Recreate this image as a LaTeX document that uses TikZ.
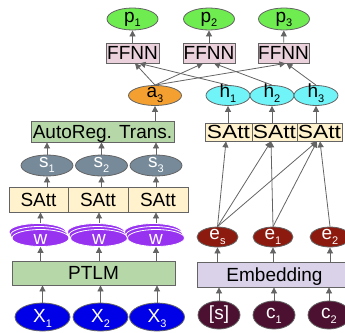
\documentclass[tikz,border=0pt]{standalone}
\usepackage{fontspec}
\setmainfont{Liberation Sans}
\usepackage{graphicx}
\usetikzlibrary{shapes.geometric,arrows.meta}

\definecolor{edgegray}{RGB}{100,100,100}
\definecolor{pgreen}{RGB}{110,236,80}
\definecolor{ffpink}{RGB}{234,209,220}
\definecolor{aorange}{RGB}{244,160,48}
\definecolor{hcyan}{RGB}{112,244,248}
\definecolor{sattcream}{RGB}{255,242,204}
\definecolor{tgreen}{RGB}{182,215,168}
\definecolor{sgray}{RGB}{118,138,154}
\definecolor{wpurple}{RGB}{150,50,240}
\definecolor{emblav}{RGB}{217,210,233}
\definecolor{ered}{RGB}{140,26,14}
\definecolor{xblue}{RGB}{0,0,232}
\definecolor{cmaroon}{RGB}{76,17,48}

\newcommand{\lo}[1]{\raisebox{-5pt}{\fontsize{11}{11}\selectfont #1}}
\newcommand{\wide}[1]{\scalebox{1.2}[1]{#1}}

\tikzset{
  every node/.style={font=\fontsize{19}{22}\selectfont, inner sep=0pt, line width=0.8pt},
  box/.style={rectangle, draw=edgegray, text height=13.5pt, text depth=0pt},
  tok/.style={ellipse, draw=edgegray, text height=4pt, text depth=0pt},
  wtok/.style={ellipse, draw=white, fill=wpurple, text=white,
               minimum width=57pt, minimum height=14pt, text height=12pt, text depth=0pt},
  arr/.style={draw=edgegray, line width=0.8pt, -{Triangle[length=6pt,width=6pt]}}
}

\begin{document}
\begin{tikzpicture}[x=1pt,y=-1pt]
    \useasboundingbox (0,0) rectangle (345,332);
    \clip (0,0) rectangle (345,332);

    % outputs
    \node[tok, fill=pgreen, minimum width=51pt, minimum height=22pt, text height=6pt] (p1) at (132.5,19) {p\lo{1}};
    \node[tok, fill=pgreen, minimum width=51pt, minimum height=22pt, text height=6pt] (p2) at (209,19) {p\lo{2}};
    \node[tok, fill=pgreen, minimum width=51pt, minimum height=22pt, text height=6pt] (p3) at (284,19) {p\lo{3}};
    \node[box, fill=ffpink, minimum width=53pt, minimum height=20pt] (ff1) at (132.5,53) {FFNN};
    \node[box, fill=ffpink, minimum width=52pt, minimum height=20pt] (ff2) at (209,53) {FFNN};
    \node[box, fill=ffpink, minimum width=51pt, minimum height=20pt] (ff3) at (283.5,53) {FFNN};

    % left branch
    \node[tok, fill=aorange, minimum width=53pt, minimum height=20pt] (a3) at (155,95.5) {a\lo{3}};
    \node[box, fill=tgreen, minimum width=143pt, minimum height=21pt] (art) at (102.5,131.5) {AutoReg. Trans.};
    \node[tok, fill=sgray, text=white, minimum width=52pt, minimum height=21pt] (s1) at (47,165.5) {s\lo{1}};
    \node[tok, fill=sgray, text=white, minimum width=52pt, minimum height=21pt] (s2) at (101.5,165.5) {s\lo{2}};
    \node[tok, fill=sgray, text=white, minimum width=52pt, minimum height=21pt] (s3) at (156,165.5) {s\lo{3}};
    \node[box, fill=sattcream, minimum width=59pt, minimum height=25pt] (sl1) at (38.5,199.5) {SAtt};
    \node[box, fill=sattcream, minimum width=60pt, minimum height=25pt] (sl2) at (98,199.5) {SAtt};
    \node[box, fill=sattcream, minimum width=60pt, minimum height=25pt] (sl3) at (158,199.5) {SAtt};

    \node[wtok] (w1b) at (37.5,232) {};
    \node[wtok] (w1m) at (39,235) {};
    \node[wtok] (w1) at (40.5,238) {w};
    \node[wtok] (w2b) at (96,232) {};
    \node[wtok] (w2m) at (97.5,235) {};
    \node[wtok] (w2) at (99,238) {w};
    \node[wtok] (w3b) at (153,232) {};
    \node[wtok] (w3m) at (154.5,235) {};
    \node[wtok] (w3) at (156,238) {w};

    \node[box, fill=tgreen, minimum width=163pt, minimum height=24pt] (ptlm) at (93.5,273) {PTLM};
    \node[tok, fill=xblue, text=white, minimum width=55pt, minimum height=28pt, text height=10pt] (x1) at (42.5,317) {X\lo{1}};
    \node[tok, fill=xblue, text=white, minimum width=55pt, minimum height=28pt, text height=10pt] (x2) at (100.5,317) {X\lo{2}};
    \node[tok, fill=xblue, text=white, minimum width=55pt, minimum height=28pt, text height=10pt] (x3) at (157,317) {X\lo{3}};

    % right branch
    \node[tok, fill=hcyan, minimum width=44pt, minimum height=20pt] (h1) at (228,95.5) {h\lo{1}};
    \node[tok, fill=hcyan, minimum width=44pt, minimum height=20pt] (h2) at (272,95.5) {h\lo{2}};
    \node[tok, fill=hcyan, minimum width=44pt, minimum height=20pt] (h3) at (316,95.5) {h\lo{3}};
    \node[box, fill=sattcream, minimum width=47pt, minimum height=18pt] (sr1) at (228.5,132) {\wide{SAtt}};
    \node[box, fill=sattcream, minimum width=45pt, minimum height=18pt] (sr2) at (274.5,132) {\wide{SAtt}};
    \node[box, fill=sattcream, minimum width=45pt, minimum height=18pt] (sr3) at (319.5,132) {\wide{SAtt}};
    \node[tok, fill=ered, text=white, minimum width=41pt, minimum height=20pt] (es) at (217.5,237) {e\lo{s}};
    \node[tok, fill=ered, text=white, minimum width=40pt, minimum height=20pt] (e1) at (273,237) {e\lo{1}};
    \node[tok, fill=ered, text=white, minimum width=40pt, minimum height=20pt] (e2) at (330,237) {e\lo{2}};
    \node[box, fill=emblav, minimum width=155pt, minimum height=25pt] (emb) at (274.5,274.5) {Embedding};
    \node[tok, fill=cmaroon, text=white, minimum width=42pt, minimum height=28pt, text height=9pt] (sb) at (219,315) {[s]};
    \node[tok, fill=cmaroon, text=white, minimum width=42pt, minimum height=28pt, text height=6pt] (c1) at (274,315) {c\lo{1}};
    \node[tok, fill=cmaroon, text=white, minimum width=42pt, minimum height=28pt, text height=6pt] (c2) at (329,315) {c\lo{2}};

    % arrows, left
    \draw[arr] (x1) -- (x1 |- ptlm.south);
    \draw[arr] (x2) -- (x2 |- ptlm.south);
    \draw[arr] (x3) -- (x3 |- ptlm.south);
    \draw[arr] (w1 |- ptlm.north) -- (w1);
    \draw[arr] (w2 |- ptlm.north) -- (w2);
    \draw[arr] (w3 |- ptlm.north) -- (w3);
    \draw[arr] (w1 |- w1b.north) -- (w1 |- sl1.south);
    \draw[arr] (w2 |- w2b.north) -- (w2 |- sl2.south);
    \draw[arr] (w3 |- w3b.north) -- (w3 |- sl3.south);
    \draw[arr] (s1 |- sl1.north) -- (s1);
    \draw[arr] (s2 |- sl2.north) -- (s2);
    \draw[arr] (s3 |- sl3.north) -- (s3);
    \draw[arr] (s1) -- (s1 |- art.south);
    \draw[arr] (s2) -- (s2 |- art.south);
    \draw[arr] (s3) -- (s3 |- art.south);
    \draw[arr] (a3 |- art.north) -- (a3);

    % arrows, right
    \draw[arr] (sb) -- (sb |- emb.south);
    \draw[arr] (c1) -- (c1 |- emb.south);
    \draw[arr] (c2) -- (c2 |- emb.south);
    \draw[arr] (es |- emb.north) -- (es);
    \draw[arr] (e1 |- emb.north) -- (e1);
    \draw[arr] (e2 |- emb.north) -- (e2);
    \draw[arr] (es.north) -- ([xshift=-2.5pt]sr1.south);
    \draw[arr] (es.north) -- ([xshift=-3.5pt]sr2.south);
    \draw[arr] (es.north) -- ([xshift=-2.5pt]sr3.south);
    \draw[arr] (e1.north) -- ([xshift=-3.5pt]sr2.south);
    \draw[arr] (e1.north) -- ([xshift=-2.5pt]sr3.south);
    \draw[arr] (e2.north) -- ([xshift=0.5pt]sr3.south);
    \draw[arr] (h1 |- sr1.north) -- (h1);
    \draw[arr] (h2 |- sr2.north) -- (h2);
    \draw[arr] (h3 |- sr3.north) -- (h3);

    % arrows, top
    \draw[arr] (a3.north) -- ([xshift=2.5pt]ff1.south);
    \draw[arr] (a3.north) -- ([xshift=-6pt]ff2.south);
    \draw[arr] (a3.north) -- ([xshift=2pt]ff3.south);
    \draw[arr] (h1.north) -- ([xshift=7pt]ff1.south);
    \draw[arr] (h2.north) -- ([xshift=5pt]ff2.south);
    \draw[arr] (h3.north) -- ([xshift=3pt]ff3.south);
    \draw[arr] (ff1) -- (p1);
    \draw[arr] (ff2) -- (p2);
    \draw[arr] (ff3) -- (p3);
\end{tikzpicture}
\end{document}
